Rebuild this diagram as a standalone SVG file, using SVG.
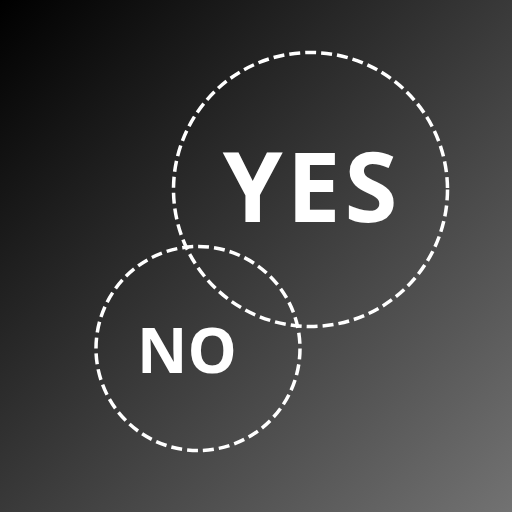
<svg xmlns="http://www.w3.org/2000/svg" width="512" height="512" viewBox="0 0 512 512">
<defs>
<linearGradient id="bg" x1="0" y1="0" x2="1" y2="1">
<stop offset="0" stop-color="#000000"/>
<stop offset="1" stop-color="#727272"/>
</linearGradient>
</defs>
<style>
.ring{fill:none;stroke:#ffffff;stroke-width:3.5;stroke-dasharray:11 5}
.lbl{fill:#ffffff;font-family:"Open Sans","Noto Sans",sans-serif;font-weight:bold;text-anchor:middle}
</style>
<rect x="0" y="0" width="512" height="512" fill="url(#bg)"/>
<g id="yes">
<circle class="ring" cx="310.5" cy="189.5" r="137"/>
<text class="lbl" x="312" y="222" font-size="96" letter-spacing="4">YES</text>
</g>
<g id="no">
<circle class="ring" cx="198" cy="348.5" r="102"/>
<text class="lbl" x="187" y="373" font-size="62">NO</text>
</g>
<g id="connectors"></g>
</svg>
